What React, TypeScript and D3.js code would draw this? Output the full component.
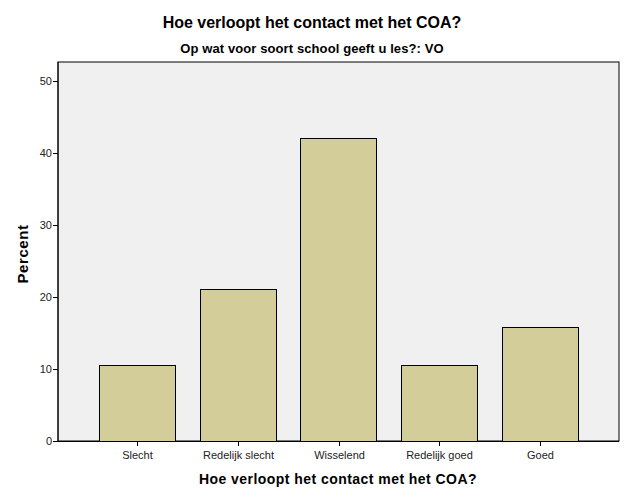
import React from 'react';
import * as d3 from 'd3';

const categories = ['Slecht', 'Redelijk slecht', 'Wisselend', 'Redelijk goed', 'Goed'];
const percents = [10.53, 21.05, 42.11, 10.53, 15.79];
const yTicks = [0, 10, 20, 30, 40, 50];

const W = 626;
const H = 501;
const plot = { left: 58, top: 62, right: 619, bottom: 441 };
const font = "Arial, 'Liberation Sans', sans-serif";

export default function App() {
  const x = d3
    .scaleBand()
    .domain(categories)
    .range([plot.left, plot.right])
    .paddingInner(0.245)
    .paddingOuter(0.405);

  const y = d3.scaleLinear().domain([0, 52.6]).range([plot.bottom, plot.top]);

  return (
    <svg
      width={W}
      height={H}
      style={{ position: 'absolute', left: 0, top: 0, background: 'white' }}
    >
      <text x={312} y={28} textAnchor="middle" fontFamily={font} fontWeight="bold" fontSize={16}>
        Hoe verloopt het contact met het COA?
      </text>
      <text
        x={312}
        y={53}
        textAnchor="middle"
        fontFamily={font}
        fontWeight="bold"
        fontSize={13}
        letterSpacing={0.1}
      >
        Op wat voor soort school geeft u les?: VO
      </text>

      {/* plot background */}
      <rect
        x={plot.left}
        y={plot.top}
        width={plot.right - plot.left}
        height={plot.bottom - plot.top}
        fill="#f0f0f0"
        stroke="#000"
        strokeWidth={1}
      />

      {/* bars */}
      {categories.map((c, i) => (
        <rect
          key={c}
          x={Math.round(x(c)!) + 0.5}
          y={Math.round(y(percents[i])) + 0.5}
          width={Math.round(x.bandwidth())}
          height={Math.round(y(0) - y(percents[i]))}
          fill="#d3ce99"
          stroke="#000"
          strokeWidth={1}
        />
      ))}

      {/* axes lines */}
      <line x1={plot.left} x2={plot.left} y1={plot.top} y2={plot.bottom} stroke="#000" />
      <line x1={plot.left} x2={plot.right} y1={plot.bottom + 0.5} y2={plot.bottom + 0.5} stroke="#000" />

      {/* y ticks */}
      {yTicks.map(t => (
        <g key={t} transform={`translate(0,${Math.round(y(t)) + 0.5})`}>
          <line x1={plot.left - 5} x2={plot.left} stroke="#000" />
          <text
            x={plot.left - 6}
            dy="0.35em"
            textAnchor="end"
            fontFamily={font}
            fontSize={11}
            fill="#222"
          >
            {t}
          </text>
        </g>
      ))}

      {/* x ticks */}
      {categories.map(c => {
        const cx = Math.round(x(c)! + x.bandwidth() / 2) + 0.5;
        return (
          <g key={c}>
            <line x1={cx} x2={cx} y1={plot.bottom} y2={plot.bottom + 5} stroke="#000" />
            <text
              x={cx}
              y={plot.bottom + 18}
              textAnchor="middle"
              fontFamily={font}
              fontSize={11}
              fill="#222"
            >
              {c}
            </text>
          </g>
        );
      })}

      <text
        x={338}
        y={484}
        textAnchor="middle"
        fontFamily={font}
        fontWeight="bold"
        fontSize={14}
        letterSpacing={0.45}
      >
        Hoe verloopt het contact met het COA?
      </text>
      <text
        transform="translate(28,254) rotate(-90)"
        textAnchor="middle"
        fontFamily={font}
        fontWeight="bold"
        fontSize={15}
        letterSpacing={0.6}
      >
        Percent
      </text>
    </svg>
  );
}
